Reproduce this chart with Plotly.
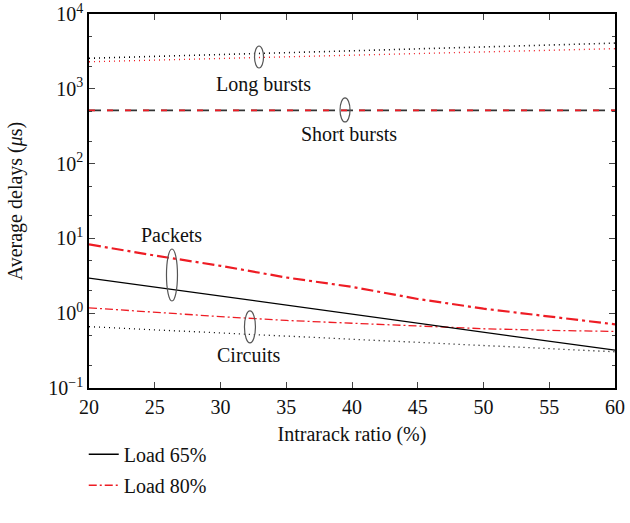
import plotly.graph_objects as go

ratio = [20, 25, 30, 35, 40, 45, 50, 55, 60]

packets_65 = [2.95, 2.24, 1.70, 1.28, 0.98, 0.74, 0.56, 0.42, 0.32]
packets_80 = [8.3, 5.9, 4.3, 3.0, 2.25, 1.55, 1.15, 0.90, 0.71]
circuits_65 = [0.66, 0.60, 0.545, 0.495, 0.45, 0.41, 0.37, 0.335, 0.305]
circuits_80 = [1.18, 1.02, 0.90, 0.80, 0.73, 0.67, 0.62, 0.59, 0.57]
long_65 = [2560, 2700, 2850, 3030, 3220, 3420, 3630, 3850, 4080]
long_80 = [2300, 2420, 2540, 2660, 2790, 2930, 3080, 3260, 3440]
short_65 = [515, 515, 515, 515, 515, 515, 515, 515, 515]
short_80 = [515, 515, 515, 515, 515, 515, 515, 515, 515]

legend_names = ["Load 65%", "Load 80%"]
ytick_vals = [0.1, 1, 10, 100, 1000, 10000]
ytick_text = ["10<sup>\u22121</sup>", "10<sup>0</sup>", "10<sup>1</sup>",
              "10<sup>2</sup>", "10<sup>3</sup>", "10<sup>4</sup>"]
xtick_vals = [20, 25, 30, 35, 40, 45, 50, 55, 60]

labels = ["Long bursts", "Short bursts", "Packets", "Circuits"]
label_x = [33.3, 39.77, 26.31, 32.17]
label_logy = [3.064, 2.396, 1.045, -0.559]
ell_x = [32.93, 39.47, 26.31, 32.24]
ell_logy = [3.425, 2.717, 0.511, -0.184]
ell_w = [9, 10, 11, 11]
ell_h = [22, 24, 52, 32]

X_RANGE = [20, 60]
Y_LOGRANGE = [-1, 4]
W, H = 630, 523
ML, MR, MT, MB = 89, 15, 14, 135
PW, PH = W - ML - MR, H - MT - MB

BLACK = "#000000"
RED = "#ee1c24"
FONT = "Liberation Serif"
TXT = "#111111"

fig = go.Figure()

# Long bursts
fig.add_trace(go.Scatter(x=ratio, y=long_65, mode="lines", showlegend=False,
                         line=dict(color=BLACK, width=1.6, dash="1px,4px")))
fig.add_trace(go.Scatter(x=ratio, y=long_80, mode="lines", showlegend=False,
                         line=dict(color=RED, width=1.4, dash="1px,4px")))
# Short bursts
fig.add_trace(go.Scatter(x=ratio, y=short_65, mode="lines", showlegend=False,
                         line=dict(color="#333333", width=1.8, dash="12px,6px")))
fig.add_trace(go.Scatter(x=ratio, y=short_80, mode="lines", showlegend=False,
                         line=dict(color=RED, width=1.8, dash="6px,12px")))
# Circuits
fig.add_trace(go.Scatter(x=ratio, y=circuits_65, mode="lines", showlegend=False,
                         line=dict(color=BLACK, width=1.3, dash="1px,4px")))
fig.add_trace(go.Scatter(x=ratio, y=circuits_80, mode="lines", name=legend_names[1],
                         legendgroup="b", legendrank=2,
                         line=dict(color=RED, width=1.3, dash="8px,3px,2px,3px")))
# Packets
fig.add_trace(go.Scatter(x=ratio, y=packets_65, mode="lines", name=legend_names[0],
                         legendgroup="a", legendrank=1,
                         line=dict(color=BLACK, width=1.3)))
fig.add_trace(go.Scatter(x=ratio, y=packets_80, mode="lines", showlegend=False,
                         line=dict(color=RED, width=2.2, dash="12px,4px,3px,4px")))

for t, x, ly in zip(labels, label_x, label_logy):
    fig.add_annotation(x=x, y=ly, xref="x", yref="y", text=t, showarrow=False,
                       font=dict(family=FONT, size=20, color=TXT))


def to_paper(x, ly):
    px = (x - X_RANGE[0]) / (X_RANGE[1] - X_RANGE[0])
    py = (ly - Y_LOGRANGE[0]) / (Y_LOGRANGE[1] - Y_LOGRANGE[0])
    return px, py


for x, ly, w, h in zip(ell_x, ell_logy, ell_w, ell_h):
    cx, cy = to_paper(x, ly)
    hw, hh = w / 2 / PW, h / 2 / PH
    fig.add_shape(type="circle", xref="paper", yref="paper",
                  x0=cx - hw, x1=cx + hw, y0=cy - hh, y1=cy + hh,
                  line=dict(color="#555555", width=1.2))

fig.update_xaxes(range=X_RANGE, tickvals=xtick_vals, ticks="inside", ticklen=6,
                 showline=True, linecolor=BLACK, linewidth=1.5, mirror="ticks",
                 showgrid=False, zeroline=False, automargin=False,
                 tickfont=dict(family=FONT, size=20, color=TXT),
                 title=dict(text="Intrarack ratio (%)", standoff=10,
                            font=dict(family=FONT, size=20, color=TXT)))
fig.update_yaxes(type="log", range=Y_LOGRANGE, tickvals=ytick_vals, ticktext=ytick_text,
                 ticks="inside", ticklen=6, showline=True, linecolor=BLACK, linewidth=1.5,
                 mirror="ticks", showgrid=False, zeroline=False, automargin=False,
                 minor=dict(ticks="inside", ticklen=3, dtick="D2", showgrid=False),
                 tickfont=dict(family=FONT, size=20, color=TXT),
                 title=dict(text="Average delays (<i>\u03bc</i>s)", standoff=20,
                            font=dict(family=FONT, size=20, color=TXT)))

fig.update_layout(
    width=W, height=H,
    margin=dict(l=ML, r=MR, t=MT, b=MB, autoexpand=False),
    plot_bgcolor="white", paper_bgcolor="white",
    showlegend=True,
    legend=dict(x=-0.01, y=-0.125, xanchor="left", yanchor="top",
                traceorder="grouped", tracegroupgap=2,
                font=dict(family=FONT, size=20, color=TXT),
                bgcolor="rgba(0,0,0,0)"),
)

fig.write_html("out.html")
